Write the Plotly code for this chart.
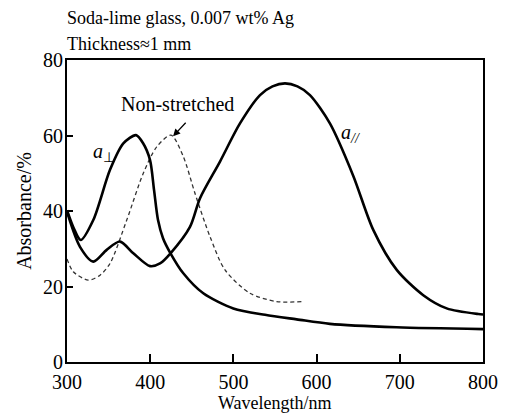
import plotly.graph_objects as go

# --- data ---
wl_perp = [300, 308, 316.5, 331.6, 351.7, 367.7, 382.9, 391.3, 399.8, 404.6, 409.4, 415.4, 424.4,
           439.8, 463.8, 499.9, 538, 576, 616, 696, 800]
ab_perp = [40.2, 35.5, 32.3, 37.6, 50.9, 57.9, 60.1, 58.0, 53.5, 45.6, 37.6, 32.8, 28.8,
           23.5, 18.2, 14.2, 12.5, 11.3, 10.1, 9.2, 8.7]

wl_par = [300, 315.6, 331.6, 347.7, 363.7, 379.7, 399.8, 411.8, 424.4, 447.8, 459.9, 483.9,
          507.9, 532, 547, 562, 577, 592, 616, 644.1, 668.1, 696.3, 728.2, 756.4, 794.3, 800]
ab_par = [39.8, 30.5, 26.6, 29.7, 31.9, 28.8, 25.4, 26.1, 28.8, 35.8, 43.4, 53.1,
          63.2, 70.7, 73.0, 73.8, 73.0, 70.7, 63.2, 49.3, 35.0, 24.4, 17.7, 14.2, 12.7, 12.6]

wl_ns = [300, 307.6, 325.6, 339.7, 351.7, 371.8, 391.7, 407.8, 425, 439.8, 453.8, 471.9,
         489.9, 519.9, 552, 582]
ab_ns = [27.3, 23.9, 21.7, 23.0, 26.1, 37.6, 50.0, 57.0, 60.1, 54.4, 44.7, 33.2,
         24.4, 18.2, 16.0, 16.0]

x_ticks = [300, 400, 500, 600, 700, 800]
y_ticks = [0, 20, 40, 60, 80]

FONT = "Liberation Serif, Times New Roman, serif"

fig = go.Figure()
fig.add_trace(go.Scatter(x=wl_ns, y=ab_ns, mode="lines",
                         line=dict(color="#333333", width=1.3, dash="4px,3px", shape="spline", smoothing=0.8),
                         showlegend=False, hoverinfo="skip"))
fig.add_trace(go.Scatter(x=wl_perp, y=ab_perp, mode="lines",
                         line=dict(color="black", width=2.6, shape="spline", smoothing=0.8),
                         showlegend=False, hoverinfo="skip"))
fig.add_trace(go.Scatter(x=wl_par, y=ab_par, mode="lines",
                         line=dict(color="black", width=2.6, shape="spline", smoothing=0.8),
                         showlegend=False, hoverinfo="skip"))

# page body has an 8px default margin: compensate so the plot lands where the reference has it
fig.update_layout(
    width=501, height=407, autosize=False,
    margin=dict(l=59, r=26, t=52, b=53),
    paper_bgcolor="white", plot_bgcolor="white",
    font=dict(family=FONT, color="black", size=18),
)
fig.update_xaxes(range=[300, 800], tickvals=x_ticks, ticktext=[str(v) for v in x_ticks],
                 ticks="inside", ticklen=8, tickwidth=1.5, tickcolor="black",
                 showline=True, linewidth=2, linecolor="black", mirror=True,
                 showgrid=False, zeroline=False, tickfont=dict(size=20, family=FONT),
                 ticklabelstandoff=1, automargin=False)
fig.update_yaxes(range=[0, 80], tickvals=y_ticks, ticktext=[str(v) for v in y_ticks],
                 ticks="inside", ticklen=6, tickwidth=1.5, tickcolor="black",
                 showline=True, linewidth=2, linecolor="black", mirror=True,
                 showgrid=False, zeroline=False, tickfont=dict(size=20, family=FONT),
                 ticklabelstandoff=-2, automargin=False,
                 title=dict(text="Absorbance/%", font=dict(size=20, family=FONT), standoff=6))

ann = [
    dict(text="Soda-lime glass, 0.007 wt% Ag", xref="paper", yref="paper", x=0, y=1,
         xanchor="left", yanchor="middle", yshift=42, xshift=-2, showarrow=False,
         font=dict(size=18, family=FONT)),
    dict(text="Thickness\u22481 mm", xref="paper", yref="paper", x=0, y=1,
         xanchor="left", yanchor="middle", yshift=16, xshift=-2, showarrow=False,
         font=dict(size=18, family=FONT)),
    dict(text="Wavelength/nm", xref="paper", yref="paper", x=0.5, y=0,
         xanchor="center", yanchor="middle", yshift=-41, showarrow=False,
         font=dict(size=18, family=FONT)),
    dict(text="Non-stretched", x=433, y=68.3, xref="x", yref="y", showarrow=False,
         font=dict(size=20, family=FONT)),
    dict(text="", x=427.5, y=59.8, xref="x", yref="y", showarrow=True,
         ax=14, ay=-15, arrowhead=2, arrowsize=1.1, arrowwidth=1.3, arrowcolor="black", standoff=0),
    dict(text="<i>a</i><sub>\u22a5</sub>", x=344, y=55.4, xref="x", yref="y", showarrow=False,
         font=dict(size=20, family=FONT)),
    dict(text="<i>a</i><sub><i>//</i></sub>", x=641, y=60.4, xref="x", yref="y", showarrow=False,
         font=dict(size=20, family=FONT)),
]
fig.update_layout(annotations=ann)

fig.write_html("out.html")
